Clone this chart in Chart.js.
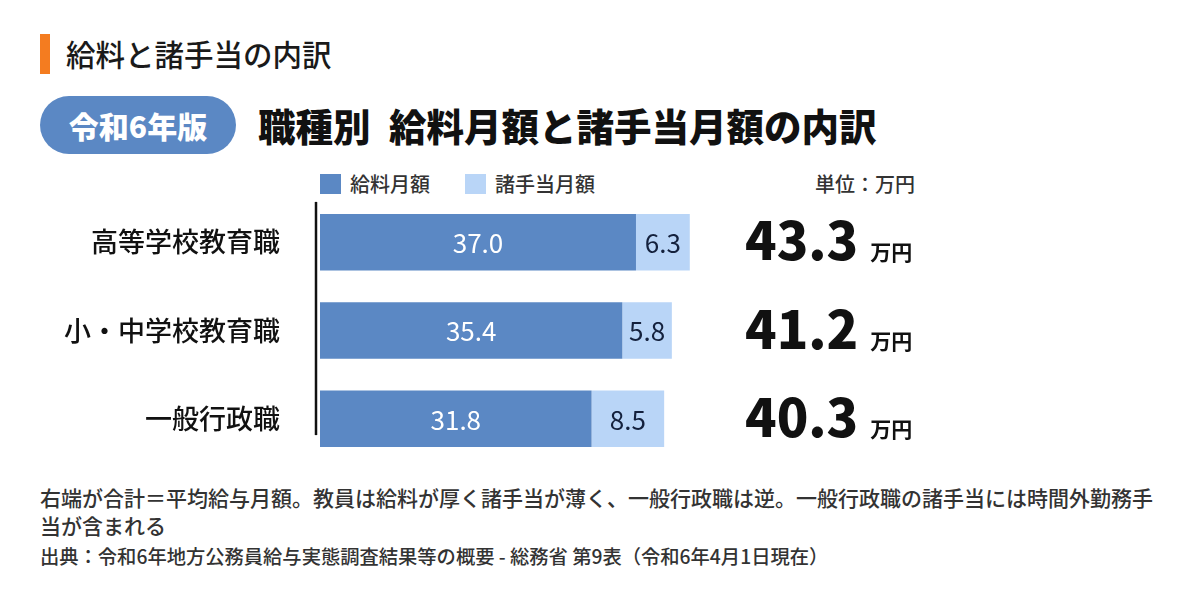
<!DOCTYPE html>
<html lang="ja">
<head>
<meta charset="utf-8">
<title>給料と諸手当の内訳</title>
<script src="https://cdn.jsdelivr.net/npm/chart.js@4.4.1/dist/chart.umd.min.js"></script>
<style>
  html, body { margin: 0; padding: 0; background: #fff; }
  body {
    width: 1200px; height: 600px; position: relative; overflow: hidden;
    font-family: "Noto Sans CJK JP", "Noto Sans", sans-serif; color: #1a1a1a;
  }
  .abs { position: absolute; white-space: nowrap; }
  #mark { left: 40px; top: 34px; width: 10px; height: 40px; background: #f47c20; }
  #kicker { left: 66px; top: 32px; line-height: 42px; font-size: 29.5px; font-weight: 500; }
  #badge {
    left: 40px; top: 96px; width: 196px; height: 58px; border-radius: 29px;
    background: #5b88c4; color: #fff; font-size: 30px; font-weight: 900;
    text-align: center; line-height: 58px;
  }
  #title { left: 258px; top: 96px; line-height: 58px; font-size: 37.5px; font-weight: 900; color: #111; word-spacing: 10px; }
  #legend { left: 320px; top: 171px; display: flex; font-size: 20px; font-weight: 500; color: #333; line-height: 26px; }
  #legend .item { display: flex; align-items: center; margin-right: 35px; }
  #legend .box { width: 21px; height: 20px; margin-right: 9px; }
  #unit { right: 285px; top: 171px; font-size: 20px; font-weight: 500; line-height: 26px; color: #333; }
  #wrap { position: absolute; left: 0; top: 190px; width: 1200px; height: 280px; }
  #note { left: 40px; top: 483px; width: 1120px; white-space: normal; font-size: 21px; font-weight: 500; line-height: 28px; color: #333; }
  #source { left: 40px; top: 543px; font-size: 19.3px; font-weight: 500; line-height: 26px; color: #333; }
</style>
</head>
<body>
<div class="abs" id="mark"></div>
<div class="abs" id="kicker">給料と諸手当の内訳</div>
<div class="abs" id="badge">令和6年版</div>
<div class="abs" id="title">職種別 給料月額と諸手当月額の内訳</div>
<div class="abs" id="legend"></div>
<div class="abs" id="unit">単位：万円</div>
<div id="wrap"><canvas id="chart"></canvas></div>
<div class="abs" id="note">右端が合計＝平均給与月額。教員は給料が厚く諸手当が薄く、一般行政職は逆。一般行政職の諸手当には時間外勤務手当が含まれる</div>
<div class="abs" id="source">出典：令和6年地方公務員給与実態調査結果等の概要 - 総務省 第9表（令和6年4月1日現在）</div>

<script>
// データ
const categories = ["高等学校教育職", "小・中学校教育職", "一般行政職"];
const salary = [37.0, 35.4, 31.8];
const allowance = [6.3, 5.8, 8.5];
const seriesNames = ["給料月額", "諸手当月額"];
const seriesColors = ["#5b88c4", "#b9d5f7"];
const unitLabel = "万円";

const FONT = '"Noto Sans CJK JP", "Noto Sans", sans-serif';
Chart.defaults.font.family = FONT;

// 凡例 (HTML)
document.getElementById("legend").innerHTML = seriesNames.map((n, i) => `
  <div class="item"><span class="box" style="background:${seriesColors[i]}"></span>${n}</div>
`).join("");

// バー内の数値
const barLabels = {
  id: "barLabels",
  afterDatasetsDraw(chart) {
    const ctx = chart.ctx;
    ctx.save();
    ctx.font = `400 26px ${FONT}`;
    ctx.textAlign = "center";
    ctx.textBaseline = "middle";
    chart.data.datasets.forEach((ds, di) => {
      chart.getDatasetMeta(di).data.forEach((el, i) => {
        ctx.fillStyle = di === 0 ? "#ffffff" : "#14213d";
        ctx.fillText(ds.data[i].toFixed(1), (el.x + el.base) / 2, el.y + 1);
      });
    });
    ctx.restore();
  }
};

// 右端の合計
const totals = {
  id: "totals",
  afterDatasetsDraw(chart) {
    const ctx = chart.ctx;
    const y = chart.scales.y;
    const x0 = chart.chartArea.right - 2;
    ctx.save();
    ctx.textAlign = "left";
    ctx.textBaseline = "alphabetic";
    categories.forEach((c, i) => {
      const t = (salary[i] + allowance[i]).toFixed(1);
      const yy = y.getPixelForValue(i) + 18;
      ctx.fillStyle = "#111";
      ctx.font = `900 52px ${FONT}`;
      ctx.fillText(t, x0, yy);
      const w = ctx.measureText(t).width;
      ctx.font = `700 21px ${FONT}`;
      ctx.fillText(unitLabel, x0 + w + 12, yy);
    });
    ctx.restore();
  }
};

// 縦の軸線
const axisLine = {
  id: "axisLine",
  beforeDatasetsDraw(chart) {
    const els = chart.getDatasetMeta(0).data;
    if (!els.length) return;
    const first = els[0], last = els[els.length - 1];
    const x = chart.chartArea.left - 4;
    const ctx = chart.ctx;
    ctx.save();
    ctx.strokeStyle = "#111";
    ctx.lineWidth = 2.5;
    ctx.beginPath();
    ctx.moveTo(x, first.y - first.height / 2 - 12);
    ctx.lineTo(x, last.y + last.height / 2 - 12);
    ctx.stroke();
    ctx.restore();
  }
};

new Chart(document.getElementById("chart"), {
  type: "bar",
  data: {
    labels: categories,
    datasets: [
      { label: seriesNames[0], data: salary, backgroundColor: seriesColors[0] },
      { label: seriesNames[1], data: allowance, backgroundColor: seriesColors[1] }
    ]
  },
  options: {
    indexAxis: "y",
    responsive: true,
    maintainAspectRatio: false,
    animation: false,
    layout: { padding: { left: 0, right: 453, top: 8, bottom: 7 } },
    datasets: { bar: { barPercentage: 0.64, categoryPercentage: 1 } },
    plugins: { legend: { display: false }, tooltip: { enabled: false } },
    scales: {
      x: { stacked: true, min: 0, max: 50, display: false },
      y: {
        stacked: true,
        grid: { display: false, drawTicks: false },
        border: { display: false },
        ticks: { color: "#111", padding: 40, font: { size: 27, weight: "500" } },
        afterFit: s => {
          s.width = 320;
          s.paddingTop = 0;
          s.paddingBottom = 0;
        }
      }
    }
  },
  plugins: [axisLine, barLabels, totals]
});
</script>
</body>
</html>
